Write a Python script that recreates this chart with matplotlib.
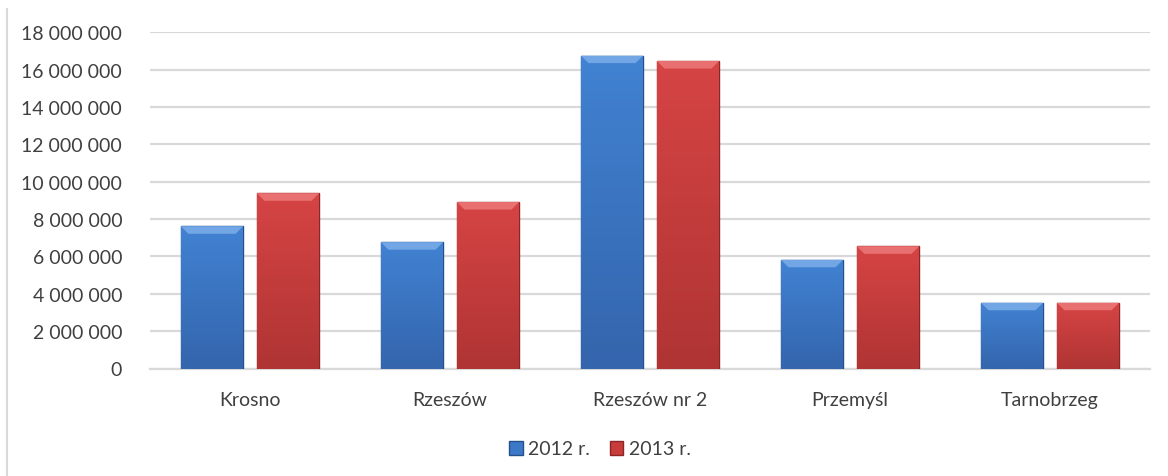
import numpy as np
import matplotlib
matplotlib.use("Agg")
import matplotlib.pyplot as plt
from matplotlib.lines import Line2D
from matplotlib.ticker import FuncFormatter

categories = ["Krosno", "Rzeszów", "Rzeszów nr 2", "Przemyśl", "Tarnobrzeg"]
values_2012 = [7610000, 6760000, 16750000, 5820000, 3520000]
values_2013 = [9380000, 8910000, 16460000, 6540000, 3520000]
series_labels = ["2012 r.", "2013 r."]
y_ticks = [0, 2000000, 4000000, 6000000, 8000000, 10000000, 12000000,
           14000000, 16000000, 18000000]

plt.rcParams['font.family'] = ['Lato', 'DejaVu Sans']
TXT = '#404040'

fig = plt.figure(figsize=(11.68, 4.77), dpi=100)
ax = fig.add_axes([150 / 1168, 1 - 369.5 / 477, 1000 / 1168, 336.2 / 477])

x = np.arange(len(categories))
w = 0.31
off = 0.19
bevel = 400000


def draw_bars(xs, vals, top_col, bot_col, edge, light, label):
    bars = ax.bar(xs, vals, w, color=top_col, edgecolor=edge, linewidth=1.0,
                  label=label, zorder=3)
    for b in bars:
        bx, bw, bh = b.get_x(), b.get_width(), b.get_height()
        # vertical gradient to mimic the bevel look
        grad = np.linspace(0, 1, 64).reshape(-1, 1)
        c0 = np.array(matplotlib.colors.to_rgb(bot_col))
        c1 = np.array(matplotlib.colors.to_rgb(top_col))
        img = c0 + (c1 - c0) * grad
        im = ax.imshow(img[:, None, :].repeat(2, axis=1), extent=[bx, bx + bw, 0, bh],
                       origin='lower', aspect='auto', zorder=3.1)
        im.set_clip_path(b)
        # lighter top bevel (trapezoid)
        inset = bw * 0.12
        ax.fill([bx, bx + bw, bx + bw - inset, bx + inset],
                [bh, bh, bh - bevel, bh - bevel], color=light, linewidth=0,
                zorder=3.2, alpha=0.8)
    return bars


draw_bars(x - off, values_2012, '#4182d2', '#3465ad', '#24508a', '#7fb0ea', series_labels[0])
draw_bars(x + off, values_2013, '#d64444', '#b03434', '#8a2626', '#ee7c7c', series_labels[1])

ax.set_xlim(-0.5, len(categories) - 0.5)
ax.set_ylim(0, 18000000)
ax.set_yticks(y_ticks)
ax.yaxis.set_major_formatter(FuncFormatter(lambda v, p: f"{int(v):,}".replace(",", "\u00a0")))
ax.set_xticks(x)
ax.set_xticklabels(categories)
ax.tick_params(axis='both', length=0, labelsize=14, colors=TXT)
ax.tick_params(axis='y', pad=20)
ax.tick_params(axis='x', pad=16)
ax.grid(axis='y', color='#d9d9d9', linewidth=1.6, zorder=0)
for s in ['top', 'right', 'left']:
    ax.spines[s].set_visible(False)
ax.spines['bottom'].set_color('#d9d9d9')
ax.spines['bottom'].set_linewidth(1.6)

handles = [plt.Rectangle((0, 0), 1, 1, facecolor='#3c78c8', edgecolor='#24508a'),
           plt.Rectangle((0, 0), 1, 1, facecolor='#c83c3c', edgecolor='#8a2626')]
fig.legend(handles, series_labels, loc='center', bbox_to_anchor=(600 / 1168, 1 - 450 / 477),
           ncol=2, frameon=False, fontsize=14, labelcolor=TXT, handlelength=0.7,
           handleheight=0.7, handletextpad=0.3, columnspacing=1.0)

fig.add_artist(Line2D([7 / 1168, 7 / 1168], [0, 1 - 10 / 477], transform=fig.transFigure,
                      color='#d9d9d9', linewidth=1.5))

fig.savefig("out.png", dpi=100)
